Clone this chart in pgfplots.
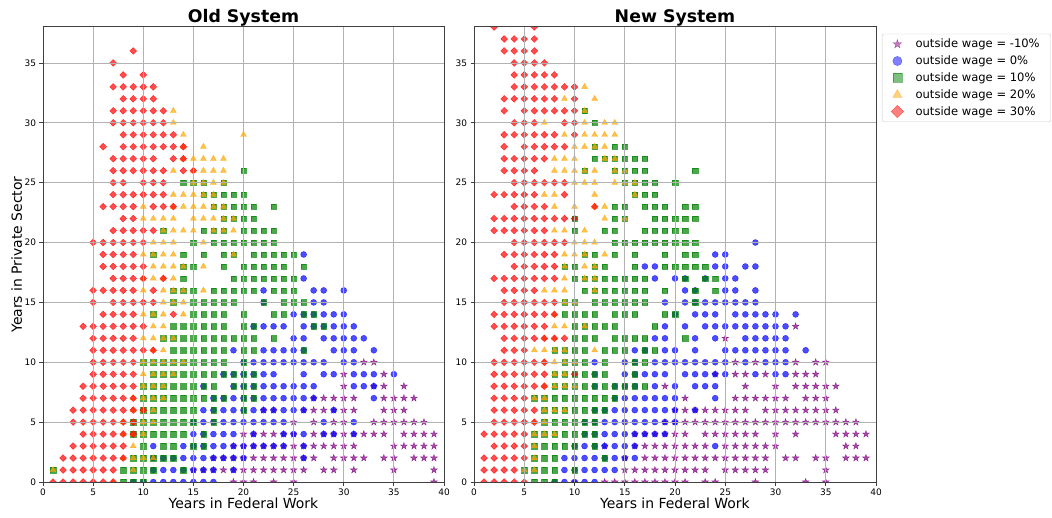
\documentclass[border=0pt]{standalone}
\usepackage{pgfplots}
\pgfplotsset{compat=1.18}
\usepackage{fontspec}
\setmainfont{DejaVu Sans}
\pgfdeclareplotmark{rdiam}{%
  \pgfpathmoveto{\pgfqpoint{0pt}{\pgfplotmarksize}}%
  \pgfpathlineto{\pgfqpoint{\pgfplotmarksize}{0pt}}%
  \pgfpathlineto{\pgfqpoint{0pt}{-\pgfplotmarksize}}%
  \pgfpathlineto{\pgfqpoint{-\pgfplotmarksize}{0pt}}%
  \pgfpathclose\pgfusepathqfillstroke}
\pgfdeclareplotmark{fstar}{%
  \pgfpathmoveto{\pgfqpoint{0pt}{\pgfplotmarksize}}%
  \pgfpathlineto{\pgfqpoint{-0.2245\pgfplotmarksize}{0.309\pgfplotmarksize}}%
  \pgfpathlineto{\pgfqpoint{-0.9511\pgfplotmarksize}{0.309\pgfplotmarksize}}%
  \pgfpathlineto{\pgfqpoint{-0.3633\pgfplotmarksize}{-0.118\pgfplotmarksize}}%
  \pgfpathlineto{\pgfqpoint{-0.5878\pgfplotmarksize}{-0.809\pgfplotmarksize}}%
  \pgfpathlineto{\pgfqpoint{0pt}{-0.382\pgfplotmarksize}}%
  \pgfpathlineto{\pgfqpoint{0.5878\pgfplotmarksize}{-0.809\pgfplotmarksize}}%
  \pgfpathlineto{\pgfqpoint{0.3633\pgfplotmarksize}{-0.118\pgfplotmarksize}}%
  \pgfpathlineto{\pgfqpoint{0.9511\pgfplotmarksize}{0.309\pgfplotmarksize}}%
  \pgfpathlineto{\pgfqpoint{0.2245\pgfplotmarksize}{0.309\pgfplotmarksize}}%
  \pgfpathclose\pgfusepathqfillstroke}
\definecolor{mpurple}{RGB}{128,0,128}
\definecolor{mblue}{RGB}{0,0,255}
\definecolor{mgreen}{RGB}{0,128,0}
\definecolor{morange}{RGB}{255,165,0}
\definecolor{mred}{RGB}{255,0,0}
\pgfplotsset{
  panel/.style={
    scale only axis, height=455bp,
    xmin=0, xmax=40, ymin=0, ymax=38,
    xtick={0,5,...,40}, ytick={0,5,...,35},
    grid=major, major grid style={line width=0.8bp, color=black!30},
    axis on top, clip marker paths=true,
    axis line style={line width=1bp, color=black!75},
    tick align=outside, xtick pos=bottom, ytick pos=left,
    major tick length=3.5bp, tick style={line width=0.8bp, color=black!75},
    ticklabel style={font=\fontsize{9}{10}\selectfont},
    /pgf/number format/assume math mode=true,
    title style={at={(axis description cs:0.5,1)}, anchor=base, yshift=-1.6bp, font=\fontsize{17.4}{20}\selectfont\bfseries},
    xlabel style={at={(axis description cs:0.5,0)}, anchor=base, yshift=-26bp, font=\fontsize{14}{16}\selectfont},
    xlabel={Years in Federal Work},
  },
  pm/.style={only marks, mark options={fill opacity=0.7, draw opacity=0.7, line width=0.4bp}},
  sstar/.style={pm, mark=fstar, mark size=3.6bp, color=mpurple},
  sblue/.style={pm, mark=*, mark size=3bp, color=mblue},
  sgreen/.style={pm, mark=square*, mark size=2.7bp, color=mgreen},
  sorange/.style={pm, mark=triangle*, mark size=3.4bp, color=morange},
  sred/.style={pm, mark=rdiam, mark size=3.4bp, color=mred},
}
\begin{document}
\begin{tikzpicture}
\useasboundingbox (0,0) rectangle (1052bp,518bp);
% ---------------- Old System ----------------
\begin{axis}[panel, width=401bp, at={(43bp,36bp)}, anchor=south west,
  title={Old System},
  ylabel={Years in Private Sector},
  ylabel style={at={(axis description cs:-0.0524,0.5)}, anchor=base, rotate=0, font=\fontsize{14}{16}\selectfont}]
\addplot[sstar] coordinates {
(32,10)(33,10)
(30,9)(34,9)
(30,8)(33,8)(34,8)(36,8)
(27,7)(28,7)(29,7)(30,7)(31,7)(34,7)(35,7)(36,7)(37,7)
(22,6)(23,6)(26,6)(27,6)(28,6)(29,6)(30,6)(31,6)(34,6)(35,6)(36,6)
(25,5)(27,5)(29,5)(30,5)(33,5)(34,5)(35,5)(36,5)(37,5)(38,5)
(20,4)(21,4)(22,4)(23,4)(24,4)(25,4)(27,4)(28,4)(29,4)(30,4)(31,4)(32,4)(33,4)(34,4)(36,4)(37,4)(38,4)(39,4)
(19,3)(20,3)(21,3)(22,3)(23,3)(24,3)(25,3)(26,3)(27,3)(28,3)(29,3)(30,3)(31,3)(35,3)(36,3)(37,3)(38,3)(39,3)
(17,2)(18,2)(19,2)(20,2)(21,2)(22,2)(23,2)(24,2)(25,2)(26,2)(27,2)(29,2)(30,2)(31,2)(32,2)(34,2)(35,2)(37,2)(38,2)(39,2)
(15,1)(16,1)(17,1)(18,1)(19,1)(20,1)(21,1)(22,1)(23,1)(24,1)(25,1)(26,1)(28,1)(29,1)(31,1)(35,1)(39,1)
(19,0)(20,0)(21,0)(23,0)(25,0)(39,0)
};
\addplot[sblue] coordinates {
(26,19)(26,17)
(22,16)(27,16)(28,16)(30,16)
(22,15)(27,15)(28,15)
(25,14)(26,14)(27,14)(28,14)(29,14)(30,14)
(21,13)(22,13)(23,13)(24,13)(26,13)(27,13)(28,13)(29,13)(30,13)(31,13)
(25,12)(26,12)(28,12)(29,12)(30,12)(31,12)(32,12)
(19,11)(22,11)(23,11)(24,11)(25,11)(26,11)(29,11)(30,11)(31,11)(33,11)
(20,10)(21,10)(22,10)(23,10)(24,10)(25,10)(26,10)(27,10)(28,10)(30,10)(31,10)
(18,9)(19,9)(20,9)(21,9)(22,9)(23,9)(26,9)(28,9)(29,9)(31,9)(32,9)(33,9)(35,9)
(16,8)(19,8)(20,8)(21,8)(22,8)(23,8)(24,8)(25,8)(26,8)(27,8)(31,8)(32,8)(33,8)
(17,7)(18,7)(19,7)(20,7)(21,7)(22,7)(23,7)(24,7)(25,7)(26,7)(27,7)(33,7)
(16,6)(17,6)(18,6)(19,6)(20,6)(21,6)(22,6)(23,6)(24,6)(25,6)(26,6)(29,6)
(15,5)(16,5)(17,5)(18,5)(19,5)(20,5)(21,5)(22,5)(23,5)(24,5)(28,5)(31,5)
(15,4)(16,4)(17,4)(18,4)(19,4)(21,4)(24,4)(25,4)(26,4)(28,4)(29,4)(31,4)
(11,3)(14,3)(15,3)(16,3)(17,3)(18,3)(19,3)(20,3)(21,3)(22,3)(23,3)(24,3)(26,3)
(11,2)(12,2)(13,2)(14,2)(15,2)(16,2)(17,2)(18,2)(19,2)(20,2)(26,2)
(11,1)(12,1)(13,1)(14,1)(15,1)(16,1)(17,1)(19,1)
(9,0)(10,0)(11,0)(12,0)(13,0)(14,0)(15,0)(16,0)(17,0)
};
\addplot[sgreen] coordinates {
(20,26)
(14,25)(15,25)(16,25)(18,25)
(16,24)(17,24)(18,24)(19,24)(20,24)
(17,23)(18,23)(19,23)(20,23)(21,23)(23,23)
(18,22)(19,22)(20,22)(21,22)
(12,21)(16,21)(17,21)(18,21)(20,21)(21,21)(22,21)(23,21)
(15,20)(17,20)(18,20)(19,20)(20,20)(21,20)(22,20)(23,20)
(11,19)(14,19)(16,19)(18,19)(19,19)(21,19)(22,19)(23,19)(24,19)(25,19)
(14,18)(15,18)(18,18)(20,18)(21,18)(22,18)(23,18)(24,18)(26,18)
(14,17)(19,17)(20,17)(21,17)(22,17)(23,17)(24,17)(25,17)
(13,16)(14,16)(15,16)(17,16)(18,16)(19,16)(20,16)(21,16)(23,16)(24,16)(25,16)
(13,15)(15,15)(16,15)(17,15)(18,15)(19,15)(22,15)(24,15)(25,15)(26,15)
(11,14)(15,14)(16,14)(17,14)(18,14)(20,14)(23,14)(24,14)(26,14)(27,14)
(13,13)(14,13)(15,13)(16,13)(17,13)(18,13)(20,13)(21,13)(27,13)(28,13)
(12,12)(13,12)(14,12)(15,12)(16,12)(17,12)(18,12)(19,12)(20,12)(21,12)(23,12)
(13,11)(14,11)(15,11)(16,11)(17,11)(18,11)(20,11)(21,11)(26,11)
(10,10)(11,10)(12,10)(13,10)(14,10)(15,10)(16,10)(17,10)(18,10)(20,10)
(11,9)(12,9)(13,9)(14,9)(15,9)(16,9)(17,9)(18,9)(19,9)(20,9)(21,9)
(10,8)(11,8)(12,8)(13,8)(14,8)(15,8)(16,8)(17,8)(19,8)(20,8)(21,8)
(10,7)(11,7)(12,7)(13,7)(14,7)(15,7)(16,7)(17,7)(18,7)(20,7)(21,7)
(10,6)(11,6)(12,6)(13,6)(14,6)(15,6)(17,6)(20,6)
(9,5)(10,5)(11,5)(12,5)(13,5)(14,5)(15,5)(17,5)
(9,4)(10,4)(11,4)(12,4)(13,4)(14,4)(16,4)
(10,3)(12,3)(13,3)(15,3)(16,3)
(9,2)(10,2)(11,2)(12,2)(13,2)
(1,1)(8,1)(9,1)(10,1)(11,1)(14,1)
(8,0)(9,0)(10,0)
};
\addplot[sorange] coordinates {
(13,31)(13,30)(14,29)(20,29)(14,28)(16,28)
(14,27)(15,27)(16,27)(17,27)(18,27)
(13,26)(15,26)(16,26)(17,26)(18,26)
(15,25)(16,25)(17,25)(18,25)
(13,24)(14,24)(15,24)(16,24)(17,24)
(10,23)(13,23)(14,23)(15,23)(16,23)(17,23)(18,23)
(10,22)(11,22)(12,22)(13,22)(15,22)(16,22)(17,22)(18,22)(19,22)
(12,21)(13,21)(14,21)(15,21)(17,21)(18,21)(19,21)
(11,20)(12,20)(13,20)(16,20)
(10,19)(11,19)(12,19)(13,19)(19,19)
(11,18)(12,18)(13,18)(14,18)(16,18)
(10,17)(11,17)(12,17)(13,17)
(10,16)(12,16)(13,16)(14,16)(16,16)
(12,15)(13,15)(14,15)
(10,14)(11,14)(12,14)(14,14)
(11,13)(12,13)
(10,12)(11,12)(12,12)(13,12)
(11,11)(12,11)
(10,10)(11,10)(12,10)(13,10)(14,10)
(10,9)(11,9)(12,9)(13,9)
(10,8)(11,8)(12,8)
(9,7)(10,7)(11,7)(12,7)
(9,6)(10,6)(11,6)
(8,5)(9,5)(10,5)(11,5)
(8,4)(9,4)(10,4)
(9,3)
(8,2)(9,2)(10,2)(11,2)
(1,1)(9,1)
(7,0)
};
\addplot[sred] coordinates {
(9,36)
(7,35)
(8,34)(10,34)
(7,33)(8,33)(9,33)(10,33)(11,33)
(8,32)(9,32)(10,32)(11,32)
(7,31)(8,31)(9,31)(10,31)(11,31)(12,31)
(7,30)(8,30)(9,30)(10,30)(11,30)(12,30)
(8,29)(9,29)(10,29)(11,29)(12,29)(13,29)
(6,28)(8,28)(9,28)(10,28)(11,28)(12,28)(13,28)(14,28)
(7,27)(8,27)(9,27)(10,27)(11,27)(13,27)(14,27)
(7,26)(8,26)(9,26)(10,26)(11,26)(12,26)(14,26)(15,26)
(7,25)(8,25)(10,25)(11,25)(12,25)
(7,24)(8,24)(9,24)(10,24)(11,24)(12,24)
(6,23)(7,23)(8,23)(9,23)(11,23)(12,23)(13,23)
(8,22)(9,22)
(7,21)(8,21)(9,21)(10,21)(11,21)
(5,20)(6,20)(7,20)(8,20)(9,20)(10,20)
(6,19)(7,19)(8,19)(9,19)
(6,18)(7,18)(8,18)(9,18)(10,18)
(7,17)(8,17)(9,17)(10,17)(12,17)
(5,16)(6,16)(7,16)(8,16)(9,16)(11,16)
(5,15)(7,15)(8,15)(9,15)(10,15)(11,15)
(6,14)(7,14)(8,14)(9,14)(13,14)
(4,13)(5,13)(6,13)(7,13)(8,13)(9,13)(10,13)
(5,12)(6,12)(7,12)(8,12)(9,12)
(5,11)(6,11)(7,11)(8,11)(9,11)(10,11)(11,11)
(5,10)(6,10)(7,10)(8,10)(9,10)
(5,9)(6,9)(7,9)(8,9)(9,9)
(4,8)(5,8)(6,8)(7,8)(8,8)(9,8)
(4,7)(5,7)(6,7)(7,7)(8,7)(9,7)
(3,6)(4,6)(5,6)(6,6)(7,6)(8,6)(9,6)(10,6)
(3,5)(4,5)(5,5)(6,5)(7,5)(8,5)(9,5)
(4,4)(5,4)(6,4)(7,4)(8,4)(9,4)
(3,3)(4,3)(5,3)(6,3)(7,3)(8,3)
(2,2)(3,2)(4,2)(5,2)(6,2)(7,2)(8,2)
(2,1)(3,1)(4,1)(5,1)(6,1)(7,1)
(1,0)(2,0)(3,0)(4,0)(5,0)(6,0)(7,0)
};
\end{axis}
% ---------------- New System ----------------
\begin{axis}[panel, width=402bp, at={(474bp,36bp)}, anchor=south west,
  title={New System},
  legend style={at={(1.0149,0.985)}, anchor=north west, draw=black!20, rounded corners=2bp,
    font=\fontsize{11.6}{13}\selectfont, row sep=2.6bp, column sep=10bp, inner xsep=9bp, inner ysep=3bp},
  legend cell align=left]
\addlegendimage{only marks, mark=fstar, mark size=4.6bp, color=mpurple, mark options={fill opacity=0.5, draw opacity=0.5}}
\addlegendentry{outside wage = -10\%}
\addlegendimage{only marks, mark=*, mark size=4.6bp, color=mblue, mark options={fill opacity=0.5, draw opacity=0.5}}
\addlegendentry{outside wage = 0\%}
\addlegendimage{only marks, mark=square*, mark size=4.4bp, color=mgreen, mark options={fill opacity=0.5, draw opacity=0.5}}
\addlegendentry{outside wage = 10\%}
\addlegendimage{only marks, mark=triangle*, mark size=5.2bp, color=morange, mark options={fill opacity=0.5, draw opacity=0.5}}
\addlegendentry{outside wage = 20\%}
\addlegendimage{only marks, mark=rdiam, mark size=6.2bp, color=mred, mark options={fill opacity=0.5, draw opacity=0.5}}
\addlegendentry{outside wage = 30\%}
\addplot[sstar, forget plot] coordinates {
(32,13)(25,12)
(26,10)(28,10)(32,10)(34,10)(35,10)
(24,9)(26,9)(27,9)(29,9)(32,9)(33,9)(34,9)
(19,8)(27,8)(30,8)(32,8)(33,8)(34,8)(35,8)(36,8)
(21,7)(26,7)(27,7)(28,7)(29,7)(30,7)(31,7)(33,7)(34,7)(35,7)
(20,6)(21,6)(22,6)(23,6)(24,6)(25,6)(26,6)(27,6)(29,6)(30,6)(31,6)(32,6)(33,6)(34,6)(35,6)(36,6)
(19,5)(20,5)(21,5)(22,5)(23,5)(24,5)(25,5)(26,5)(27,5)(28,5)(29,5)(30,5)(31,5)(32,5)(33,5)(34,5)(35,5)(36,5)(37,5)(38,5)
(16,4)(17,4)(18,4)(19,4)(20,4)(21,4)(23,4)(24,4)(25,4)(26,4)(27,4)(28,4)(30,4)(32,4)(36,4)(37,4)(38,4)(39,4)
(13,3)(16,3)(17,3)(18,3)(19,3)(20,3)(21,3)(22,3)(23,3)(25,3)(26,3)(27,3)(28,3)(29,3)(30,3)(37,3)(38,3)
(15,2)(17,2)(18,2)(19,2)(20,2)(21,2)(22,2)(23,2)(24,2)(25,2)(26,2)(27,2)(28,2)(29,2)(31,2)(32,2)(34,2)(35,2)(37,2)(38,2)(39,2)
(15,1)(16,1)(17,1)(18,1)(19,1)(20,1)(21,1)(22,1)(23,1)(25,1)(26,1)(27,1)(28,1)(29,1)(35,1)
(10,0)(13,0)(14,0)(15,0)(16,0)(17,0)(18,0)(19,0)(20,0)(21,0)(23,0)(24,0)(28,0)(33,0)(35,0)
};
\addplot[sblue, forget plot] coordinates {
(28,20)
(24,19)(25,19)
(17,18)(18,18)(24,18)(25,18)(27,18)(28,18)
(18,17)(20,17)(21,17)(23,17)(25,17)(26,17)
(21,16)(22,16)(25,16)(26,16)(28,16)
(19,15)(21,15)(22,15)(23,15)(24,15)(25,15)(26,15)(27,15)(28,15)
(20,14)(22,14)(23,14)(24,14)(26,14)(27,14)(28,14)(29,14)(30,14)(32,14)
(19,13)(21,13)(23,13)(24,13)(25,13)(26,13)(27,13)(28,13)(29,13)(30,13)(31,13)
(18,12)(19,12)(22,12)(24,12)(27,12)(28,12)(29,12)(30,12)(31,12)
(16,11)(17,11)(19,11)(20,11)(22,11)(25,11)(26,11)(27,11)(28,11)(29,11)(30,11)(31,11)(33,11)
(12,10)(15,10)(16,10)(18,10)(19,10)(20,10)(21,10)(22,10)(23,10)(24,10)(25,10)(27,10)(29,10)(30,10)(31,10)
(12,9)(15,9)(16,9)(17,9)(18,9)(19,9)(21,9)(22,9)(23,9)(24,9)(25,9)(28,9)(30,9)(31,9)
(12,8)(14,8)(15,8)(16,8)(18,8)(20,8)(22,8)(23,8)(24,8)
(14,7)(15,7)(16,7)(17,7)(18,7)(19,7)(20,7)(24,7)
(12,6)(13,6)(14,6)(15,6)(16,6)(17,6)(18,6)(19,6)(20,6)(22,6)
(11,5)(12,5)(13,5)(14,5)(15,5)(16,5)(17,5)(18,5)(19,5)(20,5)
(11,4)(12,4)(13,4)(14,4)(15,4)(16,4)(17,4)(18,4)(19,4)
(10,3)(11,3)(12,3)(13,3)(14,3)(15,3)(16,3)(24,3)
(9,2)(10,2)(11,2)(12,2)(13,2)(14,2)(15,2)(16,2)
(9,1)(10,1)(11,1)(12,1)(13,1)(14,1)
(8,0)(9,0)(10,0)(11,0)(12,0)
};
\addplot[sgreen, forget plot] coordinates {
(11,31)(12,30)
(12,28)(14,28)(15,28)
(12,27)(13,27)(14,27)(15,27)(16,27)(17,27)
(11,26)(14,26)(15,26)(16,26)(17,26)(22,26)
(15,25)(16,25)(17,25)(18,25)(20,25)
(16,24)(17,24)(18,24)
(14,23)(15,23)(17,23)(18,23)(19,23)(21,23)(22,23)
(10,22)(14,22)(15,22)(18,22)(19,22)(20,22)(21,22)(22,22)
(10,21)(13,21)(14,21)(17,21)(18,21)(19,21)(20,21)(21,21)
(14,20)(15,20)(16,20)(17,20)(18,20)(19,20)(20,20)(21,20)(22,20)
(11,19)(12,19)(14,19)(16,19)(19,19)(21,19)(22,19)
(9,18)(10,18)(12,18)(13,18)(16,18)(19,18)(20,18)(21,18)(22,18)(23,18)
(10,17)(11,17)(12,17)(13,17)(14,17)(15,17)(16,17)(17,17)(21,17)(23,17)(24,17)
(11,16)(12,16)(13,16)(14,16)(15,16)(16,16)(17,16)(19,16)(22,16)(24,16)
(9,15)(10,15)(12,15)(13,15)(14,15)(15,15)(16,15)(17,15)(22,15)
(9,14)(10,14)(11,14)(12,14)(14,14)(15,14)(16,14)(19,14)(20,14)
(10,13)(11,13)(12,13)(13,13)(14,13)(18,13)
(10,12)(11,12)(12,12)(14,12)(15,12)(16,12)(17,12)(21,12)
(8,11)(9,11)(10,11)(11,11)(13,11)(14,11)(15,11)(17,11)(18,11)
(9,10)(10,10)(11,10)(13,10)(16,10)(17,10)
(8,9)(9,9)(10,9)(11,9)(12,9)(13,9)(16,9)
(8,8)(9,8)(10,8)(11,8)(12,8)(13,8)(14,8)(15,8)(16,8)(17,8)
(6,7)(7,7)(8,7)(9,7)(10,7)(11,7)(12,7)(13,7)(14,7)
(7,6)(8,6)(9,6)(10,6)(11,6)(12,6)(13,6)
(7,5)(8,5)(9,5)(10,5)(11,5)(12,5)
(6,4)(7,4)(8,4)(9,4)(10,4)(11,4)(12,4)
(6,3)(7,3)(8,3)(9,3)(10,3)(12,3)
(6,2)(7,2)(8,2)(13,2)
(5,1)(6,1)(7,1)(8,1)(10,1)
(6,0)(7,0)(8,0)
};
\addplot[sorange, forget plot] coordinates {
(11,33)(9,32)(12,32)(11,31)
(7,30)(11,30)(13,30)(14,30)
(9,29)(11,29)(12,29)(13,29)(14,29)
(10,28)(11,28)(12,28)(13,28)
(8,27)(9,27)(10,27)(13,27)(14,27)
(8,26)(9,26)(10,26)(11,26)(12,26)(14,26)(15,26)
(10,25)(11,25)(12,25)(14,25)(15,25)(16,25)
(7,24)(8,24)(12,24)(16,24)
(8,23)(10,23)(12,23)(13,23)
(13,22)(15,22)
(8,21)(9,21)(11,21)
(10,20)(11,20)(12,20)
(9,19)(10,19)(11,19)(13,19)
(9,18)(11,18)(12,18)
(9,17)(11,17)(12,17)
(7,16)(8,16)(9,16)(12,16)
(9,15)(10,15)
(8,14)
(8,13)(9,13)(11,13)
(7,12)(8,12)
(6,11)(7,11)(8,11)(9,11)(12,11)
(7,10)(8,10)(9,10)(10,10)
(8,9)(9,9)
(7,8)(8,8)(9,8)(10,8)
(6,7)(7,7)
(7,6)(8,6)(9,6)
(6,5)(7,5)
(6,4)(7,4)(8,4)
(6,3)(6,2)(5,1)(6,1)
};
\addplot[sred, forget plot] coordinates {
(2,38)(6,38)
(3,37)(4,37)(5,37)(6,37)
(3,36)(4,36)(5,36)(6,36)
(4,35)(5,35)(6,35)(7,35)
(4,34)(5,34)(6,34)(7,34)(8,34)
(4,33)(5,33)(6,33)(7,33)(8,33)(9,33)(10,33)
(3,32)(4,32)(5,32)(6,32)(7,32)(8,32)(10,32)
(3,31)(5,31)(6,31)(7,31)(8,31)(9,31)(10,31)
(4,30)(5,30)(6,30)(9,30)(10,30)
(3,29)(4,29)(5,29)(6,29)(7,29)(8,29)(10,29)
(3,28)(5,28)(6,28)(7,28)(8,28)(9,28)
(3,27)(4,27)(5,27)(6,27)(7,27)
(3,26)(4,26)(5,26)(6,26)
(4,25)(5,25)(6,25)(7,25)(8,25)(9,25)
(2,24)(3,24)(4,24)(5,24)(6,24)(9,24)
(4,23)(5,23)(6,23)(7,23)(12,23)
(2,22)(3,22)(4,22)(5,22)(6,22)(7,22)(8,22)(9,22)(10,22)
(2,21)(3,21)(4,21)(5,21)(6,21)(7,21)
(4,20)(5,20)(6,20)(7,20)(8,20)(9,20)
(3,19)(4,19)(5,19)(6,19)(7,19)(8,19)
(4,18)(5,18)(6,18)(7,18)(8,18)
(2,17)(3,17)(4,17)(5,17)(6,17)(7,17)(8,17)
(3,16)(4,16)(5,16)(6,16)
(3,15)(4,15)(5,15)(6,15)(7,15)(8,15)
(2,14)(3,14)(4,14)(5,14)(6,14)(7,14)(8,14)
(2,13)(3,13)(4,13)(5,13)(6,13)(7,13)
(3,12)(4,12)(5,12)(6,12)(7,12)(8,12)(9,12)
(3,11)(4,11)(5,11)
(2,10)(3,10)(4,10)(5,10)(6,10)(7,10)
(2,9)(3,9)(4,9)(5,9)(6,9)(7,9)(10,9)
(2,8)(3,8)(4,8)(5,8)(6,8)(7,8)
(2,7)(3,7)(4,7)(5,7)
(2,6)(3,6)(4,6)(5,6)(6,6)
(2,5)(3,5)(4,5)(5,5)(6,5)
(1,4)(2,4)(3,4)(4,4)(5,4)
(2,3)(3,3)(4,3)(5,3)
(1,2)(2,2)(3,2)(4,2)(5,2)
(1,1)(2,1)(3,1)(4,1)
(1,0)(2,0)(3,0)(4,0)(5,0)
};
\end{axis}
\end{tikzpicture}
\end{document}
